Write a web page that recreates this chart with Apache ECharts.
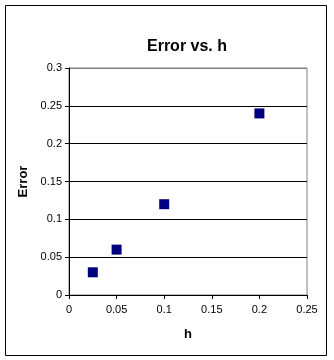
<!DOCTYPE html>
<html><head><meta charset="utf-8">
<script src="https://cdn.jsdelivr.net/npm/echarts@6/dist/echarts.min.js"></script>
<style>html,body{margin:0;padding:0;background:#fff}#c{width:334px;height:360px}</style>
</head><body><div id="c"></div>
<script>
const hValues = [0.025, 0.05, 0.1, 0.2];
const errorValues = [0.03, 0.06, 0.12, 0.24];
const titleText = 'Error vs. h';
const xName = 'h';
const yName = 'Error';

const font = '"Liberation Sans", Arial, sans-serif';
const chart = echarts.init(document.getElementById('c'));
chart.setOption({
  backgroundColor: '#fff',
  animation: false,
  title: { text: titleText, left: 182, top: 34, textAlign: 'center',
    textStyle: { fontFamily: font, fontSize: 16, fontWeight: 'bold', color: '#000' } },
  graphic: [{ type: 'rect', shape: { x: 5.5, y: 5.5, width: 321, height: 350 },
    style: { fill: 'none', stroke: '#000', lineWidth: 1 }, z: -1 }],
  grid: { left: 69, right: 27, top: 68, bottom: 65, show: true, borderColor: '#808080', borderWidth: 1, backgroundColor: '#fff' },
  xAxis: { type: 'value', min: 0, max: 0.25, interval: 0.05,
    name: xName, nameLocation: 'middle', nameGap: 33,
    nameTextStyle: { fontFamily: font, fontSize: 13, fontWeight: 'bold', color: '#000' },
    axisLine: { lineStyle: { color: '#000' } },
    axisTick: { show: true, length: 4, lineStyle: { color: '#000' } },
    axisLabel: { fontFamily: font, fontSize: 11, color: '#000', margin: 9 },
    splitLine: { show: false } },
  yAxis: { type: 'value', min: 0, max: 0.3, interval: 0.05,
    name: yName, nameLocation: 'middle', nameGap: 33, nameRotate: 90,
    nameTextStyle: { fontFamily: font, fontSize: 13, fontWeight: 'bold', color: '#000' },
    axisLine: { show: true, lineStyle: { color: '#000' } },
    axisTick: { show: true, length: 4, lineStyle: { color: '#000' } },
    axisLabel: { fontFamily: font, fontSize: 11, color: '#000', margin: 7 },
    splitLine: { show: true, lineStyle: { color: ['#000','#000','#000','#000','#000','#000','#808080'], width: 1 } } },
  series: [{ type: 'scatter', symbol: 'rect', symbolSize: 10,
    itemStyle: { color: '#000080', opacity: 1 },
    data: hValues.map((h, i) => [h, errorValues[i]]) }]
});
</script></body></html>
